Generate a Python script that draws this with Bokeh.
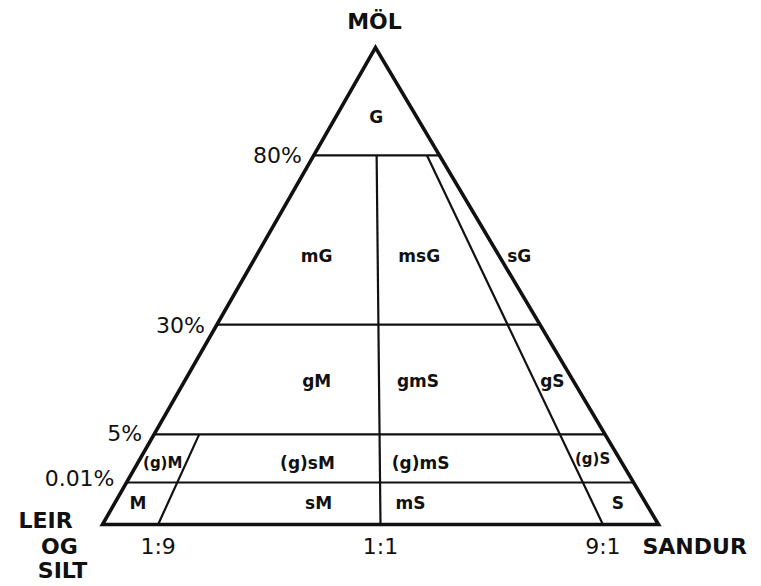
import numpy as np
from bokeh.plotting import figure
from bokeh.models import Range1d, ColumnDataSource
from bokeh.core.properties import value
from bokeh.embed import file_html
from bokeh.resources import INLINE

# ---------------- data ----------------
GRAVEL_LEVELS = [0.01, 5, 30, 80]            # gravel (MÖL) class boundaries, %
LEVEL_LABELS = ["0.01%", "5%", "30%", "80%"]
RATIO_LEVELS = [0.1, 0.5, 0.9]               # sand : (sand + mud) boundaries
RATIO_LABELS = ["1:9", "1:1", "9:1"]
RATIO_TOPS = [5, 80, 80]                     # gravel % where each ratio boundary ends

CLASS_NAMES = ["G", "mG", "msG", "sG", "gM", "gmS", "gS",
               "(g)M", "(g)sM", "(g)mS", "(g)S", "M", "sM", "mS", "S"]
CLASS_GRAVEL = [87, 50, 50, 50, 17, 17, 17,
                1.9, 1.9, 1.9, 2.3, 0.005, 0.005, 0.005, 0.005]
CLASS_RATIO = [0.5, 0.25, 0.67, 1.08, 0.34, 0.60, 0.945,
               0.053, 0.351, 0.584, 0.942, 0.044, 0.384, 0.557, 0.947]

APEX_LABEL = "MÖL"
SAND_LABEL = "SANDUR"
MUD_LABEL_LINES = ["LEIR", "OG", "SILT"]

# ---------------- diagram scale (layout) ----------------
GRAVEL_KNOTS = [0, 0.01, 5, 30, 80, 100]
HEIGHT_KNOTS = [0, 0.088, 0.189, 0.419, 0.774, 1.0]
APEX_X = 0.491
DY = -7   # baseline correction


def height(g):
    return np.interp(np.asarray(g, dtype=float), GRAVEL_KNOTS, HEIGHT_KNOTS)


def to_xy(g, r):
    v = height(g)
    xl = APEX_X * v
    xr = 1 + (APEX_X - 1) * v
    return xl + np.asarray(r, dtype=float) * (xr - xl), v


FONT = value("DejaVu Sans")
INK = "#111111"

p = figure(width=761, height=586,
           x_range=Range1d(-0.183453, 1.185252), y_range=Range1d(-0.129979, 1.098532),
           output_backend="svg", toolbar_location=None,
           x_axis_location=None, y_axis_location=None,
           min_border=0, outline_line_color=None)
p.grid.visible = False
p.background_fill_color = "white"
p.border_fill_color = "white"

# horizontal gravel boundaries
hx, hy = [], []
for g in GRAVEL_LEVELS:
    x, y = to_xy([g, g], [0, 1])
    hx.append(list(x)); hy.append(list(y))
p.multi_line(hx, hy, line_color=INK, line_width=2.2)

# ratio boundaries
rx, ry = [], []
for r, top in zip(RATIO_LEVELS, RATIO_TOPS):
    x, y = to_xy([0, top], [r, r])
    rx.append(list(x)); ry.append(list(y))
p.multi_line(rx, ry, line_color=INK, line_width=2.2)

# outer triangle
tx, ty = to_xy([0, 0, 100], [0, 1, 0.5])
p.patch(list(tx), list(ty), fill_color=None, line_color=INK, line_width=3.6,
        line_join="miter")

# class labels
cx, cy = to_xy(CLASS_GRAVEL, CLASS_RATIO)
small = [n in ("(g)M", "(g)S") for n in CLASS_NAMES]
big_src = ColumnDataSource(dict(
    x=[a for a, s in zip(cx, small) if not s],
    y=[b for b, s in zip(cy, small) if not s],
    t=[n for n, s in zip(CLASS_NAMES, small) if not s]))
small_src = ColumnDataSource(dict(
    x=[a for a, s in zip(cx, small) if s],
    y=[b for b, s in zip(cy, small) if s],
    t=[n for n, s in zip(CLASS_NAMES, small) if s]))
p.text(x="x", y="y", text="t", source=big_src, text_font=FONT,
       text_font_style="bold", text_font_size="17px", text_color=INK,
       text_align="center", text_baseline="alphabetic", y_offset=6 + DY)
p.text(x="x", y="y", text="t", source=small_src, text_font=FONT,
       text_font_style="bold", text_font_size="15px", text_color=INK,
       text_align="center", text_baseline="alphabetic", y_offset=6 + DY)

# gravel level labels on left edge
lx, ly = to_xy(GRAVEL_LEVELS, [0] * len(GRAVEL_LEVELS))
lev_src = ColumnDataSource(dict(x=lx, y=ly, t=LEVEL_LABELS,
                                dy=[3 + DY, 6 + DY, 8 + DY, 7 + DY]))
p.text(x="x", y="y", text="t", source=lev_src, text_font=FONT,
       text_font_size="22px", text_color=INK, text_align="right",
       text_baseline="alphabetic", x_offset=-12, y_offset="dy")

# ratio labels under base
bx, by = to_xy([0] * len(RATIO_LEVELS), RATIO_LEVELS)
rat_src = ColumnDataSource(dict(x=bx, y=by, t=RATIO_LABELS))
p.text(x="x", y="y", text="t", source=rat_src, text_font=FONT,
       text_font_size="22px", text_color=INK, text_align="center",
       text_baseline="alphabetic", y_offset=29 + DY)

# corner labels
ax_, ay_ = to_xy([100], [0.5])
p.text(x=list(ax_), y=list(ay_), text=[APEX_LABEL], text_font=FONT,
       text_font_style="bold", text_font_size="22px", text_color=INK,
       text_align="center", text_baseline="alphabetic", y_offset=-19 + DY, x_offset=-1)

sx, sy = to_xy([0], [1])
p.text(x=list(sx), y=list(sy), text=[SAND_LABEL], text_font=FONT,
       text_font_style="bold", text_font_size="22px", text_color=INK,
       text_align="left", text_baseline="alphabetic", x_offset=-16, y_offset=29 + DY)

mx, my = to_xy([0, 0, 0], [0, 0, 0])
mud_src = ColumnDataSource(dict(x=mx, y=my, t=MUD_LABEL_LINES,
                                dx=[-57, -43, -40], dy=[3 + DY, 29 + DY, 53 + DY]))
p.text(x="x", y="y", text="t", source=mud_src, text_font=FONT,
       text_font_style="bold", text_font_size="22px", text_color=INK,
       text_align="center", text_baseline="alphabetic",
       x_offset="dx", y_offset="dy")

open("out.html", "w").write(file_html(p, INLINE))
